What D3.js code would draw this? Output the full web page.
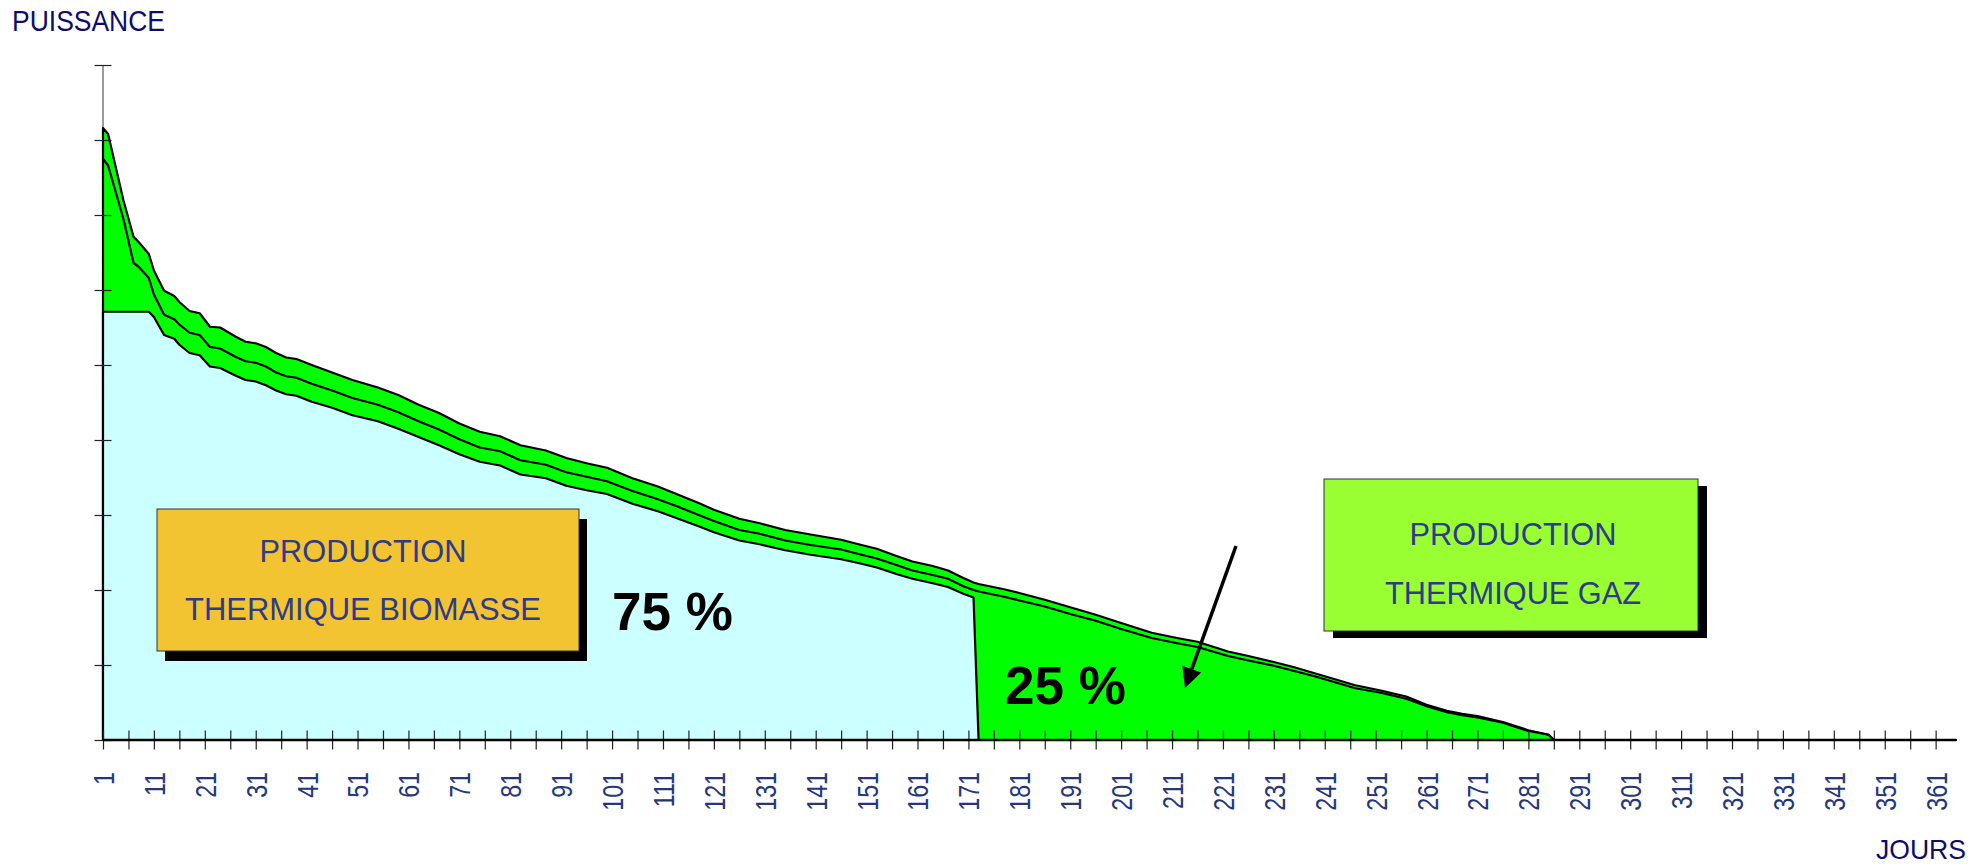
<!DOCTYPE html>
<html>
<head>
<meta charset="utf-8">
<script src="https://cdn.jsdelivr.net/npm/d3@7"></script>
<style>
  html, body { margin: 0; padding: 0; background: #fff; }
  svg { display: block; font-family: 'Liberation Sans', Arial, sans-serif; }
</style>
</head>
<body>
<div id="chart-container"></div>
<script>
// days of the sorted load curve (1 = coldest day)
const days = [
  1, 2, 5, 7, 8, 10, 11, 13, 15, 16,
  18, 20, 22, 24, 27, 29, 31, 33, 35, 37,
  39,
  42, 46, 50, 55, 59, 63, 67, 71, 75, 79,
  83, 88, 92, 96, 100, 105, 110, 114, 118, 121,
  126, 130, 135, 140, 146, 150, 153, 157, 160, 164,
  167, 170, 172, 173, 178, 181, 186, 191, 196, 201,
  207, 212, 216, 222, 226, 231, 235, 239, 243, 247,
  252, 257, 261, 265, 268, 271, 276, 281, 285, 286,
  365
];

// upper curve
const totalLoad = [
  8.16, 8.08, 7.20, 6.71, 6.64, 6.48, 6.26, 5.99, 5.92, 5.84,
  5.72, 5.69, 5.51, 5.50, 5.38, 5.31, 5.29, 5.24, 5.16, 5.10,
  5.08,
  5.00, 4.90, 4.80, 4.70, 4.60, 4.47, 4.36, 4.22, 4.11, 4.05,
  3.93, 3.86, 3.76, 3.69, 3.63, 3.49, 3.38, 3.27, 3.16, 3.07,
  2.95, 2.89, 2.80, 2.74, 2.67, 2.60, 2.55, 2.45, 2.38, 2.32,
  2.26, 2.16, 2.10, 2.08, 2.01, 1.96, 1.87, 1.77, 1.67, 1.56,
  1.43, 1.36, 1.31, 1.18, 1.12, 1.04, 0.97, 0.89, 0.81, 0.73,
  0.66, 0.58, 0.47, 0.39, 0.35, 0.32, 0.24, 0.13, 0.07, 0,
  0
];

// middle curve
const middleLoad = [
  7.75, 7.66, 6.95, 6.36, 6.31, 6.16, 5.94, 5.67, 5.61, 5.54,
  5.43, 5.40, 5.24, 5.22, 5.11, 5.05, 5.03, 4.98, 4.90, 4.85,
  4.83,
  4.75, 4.66, 4.56, 4.47, 4.37, 4.25, 4.14, 4.01, 3.90, 3.85,
  3.73, 3.67, 3.57, 3.51, 3.45, 3.32, 3.21, 3.11, 3.00, 2.92,
  2.80, 2.75, 2.66, 2.60, 2.54, 2.47, 2.42, 2.33, 2.26, 2.20,
  2.15, 2.05, 2.00, 1.98, 1.91, 1.86, 1.78, 1.68, 1.59, 1.48,
  1.36, 1.29, 1.24, 1.12, 1.06, 0.99, 0.92, 0.85, 0.77, 0.69,
  0.63, 0.55, 0.45, 0.37, 0.33, 0.30, 0.23, 0.12, 0.07, 0,
  0
];

// biomass production (capped, stops after day 172)
const biomassLoad = [
  5.71, 5.71, 5.71, 5.71, 5.71, 5.71, 5.64, 5.40, 5.35, 5.27,
  5.16, 5.13, 4.98, 4.96, 4.86, 4.80, 4.78, 4.73, 4.66, 4.61,
  4.59,
  4.51, 4.43, 4.33, 4.25, 4.15, 4.04, 3.93, 3.81, 3.71, 3.66,
  3.54, 3.49, 3.39, 3.33, 3.28, 3.15, 3.05, 2.95, 2.85, 2.77,
  2.66, 2.61, 2.53, 2.47, 2.41, 2.35, 2.30, 2.21, 2.15, 2.09,
  2.04, 1.95, 1.90, 0, 0, 0, 0, 0, 0, 0,
  0, 0, 0, 0, 0, 0, 0, 0, 0, 0,
  0, 0, 0, 0, 0, 0, 0, 0, 0, 0,
  0
];

const xTickDays = d3.range(1, 362, 5);
const xLabelDays = d3.range(1, 362, 10);
const yTickValues = d3.range(0, 10);

const yTitle = 'PUISSANCE';
const xTitle = 'JOURS';
const biomassLabel = ['PRODUCTION', 'THERMIQUE BIOMASSE'];
const gasLabel = ['PRODUCTION', 'THERMIQUE GAZ'];
const shareLabels = ['75 %', '25 %'];

class LoadCurve {
  constructor({ containerSelector = '#chart-container' } = {}) {
    this.containerSelector = containerSelector;
    this._sizing = {
      width: 1988,
      height: 864,
      left: 103,
      right: 1956,
      top: 65,
      bottom: 740
    };
    this._styles = {
      cyan: '#ccffff',
      green: '#00ff00',
      orangeBox: '#f2c431',
      greenBox: '#99ff33',
      boxText: '#2e3a8c',
      tickText: '#25367a',
      title: '#0d0d6b',
      stroke: 2.2
    };

    this.init();
    this.render();
  }

  init() {
    const { left, right, top, bottom, width, height } = this._sizing;
    this._data = days.map((d, i) => ({
      day: d,
      total: totalLoad[i],
      middle: middleLoad[i],
      biomass: biomassLoad[i]
    }));
    this.x = d3.scaleLinear().domain([1, 365]).range([left, right]);
    this.y = d3.scaleLinear().domain([0, 9]).range([bottom, top]);

    this.svg = d3.select(this.containerSelector).append('svg')
      .attr('width', width)
      .attr('height', height);
  }

  drawAreas() {
    const { x, y, svg } = this;
    const { cyan, green, stroke } = this._styles;

    // y axis line sits under the areas
    svg.append('line')
      .attr('x1', x(1)).attr('x2', x(1))
      .attr('y1', y(9)).attr('y2', y(0))
      .attr('stroke', '#666')
      .attr('stroke-width', 1.3);

    const areaOf = key => d3.area()
      .x(d => x(d.day))
      .y0(y(0))
      .y1(d => y(d[key]));

    svg.append('path')
      .datum(this._data)
      .attr('d', areaOf('total'))
      .attr('fill', green)
      .attr('stroke', '#000')
      .attr('stroke-width', stroke)
      .attr('stroke-linejoin', 'round');

    svg.append('path')
      .datum(this._data)
      .attr('d', areaOf('biomass'))
      .attr('fill', cyan)
      .attr('stroke', '#000')
      .attr('stroke-width', stroke)
      .attr('stroke-linejoin', 'round');

    svg.append('path')
      .datum(this._data.filter(d => d.day <= 286))
      .attr('d', d3.line().x(d => x(d.day)).y(d => y(d.middle)))
      .attr('fill', 'none')
      .attr('stroke', '#000')
      .attr('stroke-width', stroke)
      .attr('stroke-linejoin', 'round');
  }

  drawAxes() {
    const { x, y, svg } = this;
    const { tickText } = this._styles;

    const yAxis = svg.append('g')
      .attr('transform', `translate(${x(1)},0)`)
      .call(d3.axisLeft(y).tickValues(yTickValues).tickSize(0).tickFormat(''));
    yAxis.select('.domain').remove();
    yAxis.selectAll('.tick line')
      .attr('x1', -8.5).attr('x2', 8.5)
      .attr('stroke', '#222')
      .attr('stroke-width', 1.2);

    const xAxis = svg.append('g')
      .attr('transform', `translate(0,${y(0)})`)
      .call(d3.axisBottom(x)
        .tickValues(xTickDays)
        .tickSize(0)
        .tickFormat(d => xLabelDays.includes(d) ? d : ''));
    xAxis.select('.domain').remove();
    xAxis.selectAll('.tick line')
      .attr('y1', -9.5).attr('y2', 9.5)
      .attr('stroke', '#222')
      .attr('stroke-width', 1.2);
    xAxis.selectAll('.tick text')
      .attr('x', 0).attr('y', 0)
      .attr('dy', '0.36em')
      .attr('transform', 'translate(0,32) rotate(-90) scale(0.8,1)')
      .attr('text-anchor', 'end')
      .attr('font-size', 29)
      .attr('font-family', "'Liberation Sans', Arial, sans-serif")
      .attr('fill', tickText);

    svg.append('line')
      .attr('x1', x(1)).attr('x2', x(365))
      .attr('y1', y(0)).attr('y2', y(0))
      .attr('stroke', '#000')
      .attr('stroke-width', 2.4);

    svg.append('text')
      .attr('x', 12).attr('y', 31)
      .attr('font-size', 29)
      .attr('textLength', 153)
      .attr('lengthAdjust', 'spacingAndGlyphs')
      .attr('fill', this._styles.title)
      .text(yTitle);

    svg.append('text')
      .attr('x', 1876).attr('y', 859)
      .attr('font-size', 28)
      .attr('textLength', 90)
      .attr('lengthAdjust', 'spacingAndGlyphs')
      .attr('fill', this._styles.title)
      .text(xTitle);
  }

  drawBox({ x0, y0, w, h, dx, dy, fill, lines, cx, baselines, lengths }) {
    const g = this.svg.append('g');
    g.append('rect')
      .attr('x', x0 + dx).attr('y', y0 + dy)
      .attr('width', w).attr('height', h)
      .attr('fill', '#000');
    g.append('rect')
      .attr('x', x0).attr('y', y0)
      .attr('width', w).attr('height', h)
      .attr('fill', fill)
      .attr('stroke', '#333')
      .attr('stroke-width', 1);
    g.selectAll('text')
      .data(lines)
      .join('text')
        .attr('x', cx)
        .attr('y', (d, i) => baselines[i])
        .attr('text-anchor', 'middle')
        .attr('font-size', 32)
        .attr('textLength', (d, i) => lengths[i])
        .attr('lengthAdjust', 'spacingAndGlyphs')
        .attr('fill', this._styles.boxText)
        .text(d => d);
  }

  drawAnnotations() {
    const { svg } = this;
    const { orangeBox, greenBox } = this._styles;

    this.drawBox({
      x0: 157, y0: 509, w: 422, h: 142, dx: 8, dy: 10,
      fill: orangeBox, lines: biomassLabel, cx: 363,
      baselines: [562, 620], lengths: [207, 356]
    });
    this.drawBox({
      x0: 1324, y0: 479, w: 374, h: 152, dx: 9, dy: 7,
      fill: greenBox, lines: gasLabel, cx: 1513,
      baselines: [545, 604], lengths: [207, 256]
    });

    svg.selectAll('text.share')
      .data(shareLabels)
      .join('text')
        .classed('share', true)
        .attr('x', (d, i) => [612, 1005][i])
        .attr('y', (d, i) => [630, 704][i])
        .attr('font-size', 53)
        .attr('font-weight', 'bold')
        .attr('fill', '#000')
        .text(d => d);

    // arrow pointing into the gas area
    const start = [1236, 546];
    const tip = [1185, 688];
    const len = Math.hypot(tip[0] - start[0], tip[1] - start[1]);
    const ux = (tip[0] - start[0]) / len;
    const uy = (tip[1] - start[1]) / len;
    const headLen = 20;
    const half = 10;
    const bx = tip[0] - ux * headLen;
    const by = tip[1] - uy * headLen;

    svg.append('line')
      .attr('x1', start[0]).attr('y1', start[1])
      .attr('x2', bx).attr('y2', by)
      .attr('stroke', '#000')
      .attr('stroke-width', 3.5);
    svg.append('path')
      .attr('d', `M${tip[0]},${tip[1]}L${bx - uy * half},${by + ux * half}L${bx + uy * half},${by - ux * half}Z`)
      .attr('fill', '#000');
  }

  render() {
    this.drawAreas();
    this.drawAxes();
    this.drawAnnotations();
  }
}

new LoadCurve();
</script>
</body>
</html>
